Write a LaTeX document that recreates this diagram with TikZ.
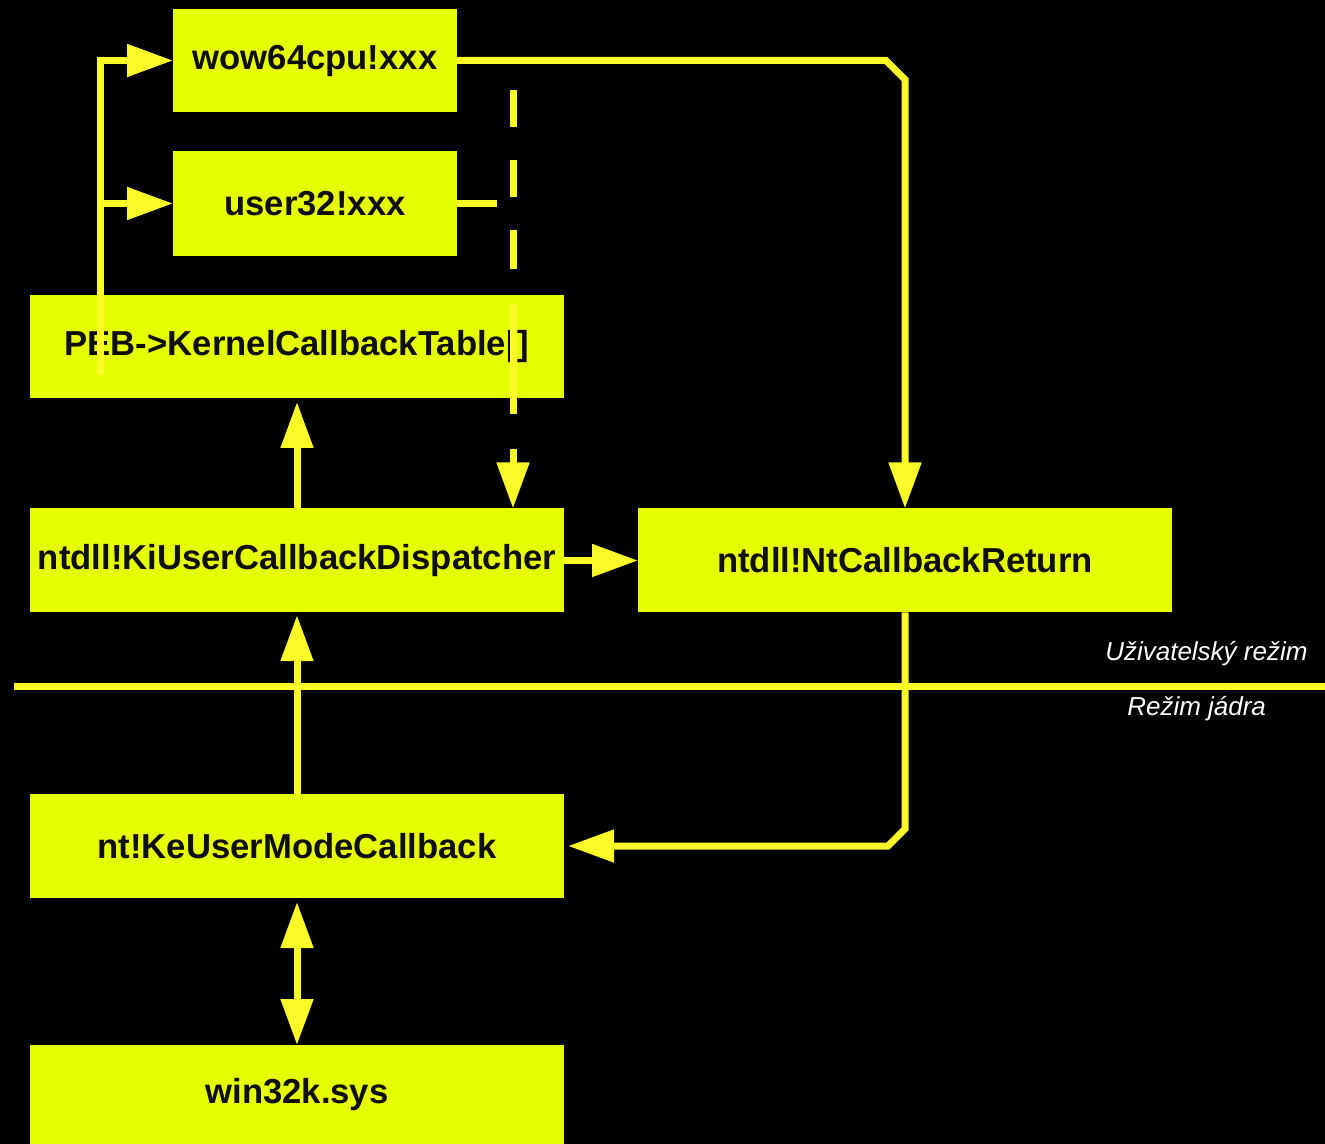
\documentclass[tikz,border=0pt]{standalone}
\usepackage{fontspec}
\setmainfont{Liberation Sans}
\usetikzlibrary{arrows.meta}
\definecolor{boxfill}{RGB}{230,255,0}
\definecolor{linecol}{RGB}{250,250,40}
\definecolor{txt}{RGB}{15,15,10}
\begin{document}
\begin{tikzpicture}[x=0.75pt,y=-0.75pt,
  box/.style={rectangle, fill=boxfill, inner sep=0pt, outer sep=0pt, text=txt,
    font=\bfseries\fontsize{26pt}{30pt}\selectfont},
  smallbox/.style={box, minimum width=213pt, minimum height=77.5pt},
  bigbox/.style={box, minimum width=400.5pt, minimum height=78pt},
  conn/.style={draw=linecol, line width=5.25pt},
  tri/.tip={Triangle[length=34.5pt,width=23.5pt]},
  tip/.style={-{tri}},
  lbl/.style={text=white, font=\itshape\fontsize{19.5pt}{23pt}\selectfont,
    inner sep=0pt, anchor=west}]
\fill[black] (0,0) rectangle (1325,1144);
\useasboundingbox (0,0) rectangle (1325,1144);

% boxes
\node[smallbox] (wow) at (315,60.5) {wow64cpu!xxx};
\node[smallbox, minimum height=78.75pt] (usr) at (315,203.5) {user32!xxx};
\node[bigbox, minimum height=77.25pt] (peb) at (297,346.5) {PEB->KernelCallbackTable[]};
\node[bigbox] (ki) at (297,560.5) {ntdll!KiUserCallbackDispatcher};
\node[bigbox] (ret) at (905,560.5) {ntdll!NtCallbackReturn};
\node[bigbox] (ke) at (297,846) {nt!KeUserModeCallback};
\node[bigbox, minimum height=75pt] (win) at (297,1095) {win32k.sys};

% mode labels
\node[lbl] (ulab) at (1105,654) {Uživatelský režim};
\node[lbl] (klab) at (1127,709) {Režim jádra};

% separator
\coordinate (sepL) at (14,686);
\coordinate (sepR) at (1325,686);
\draw[conn] (sepL) -- (sepR);

% connectors
\coordinate (lt) at (100,375);
\draw[conn,tip] (lt) |- (wow.west);
\draw[conn,tip] (lt |- usr.west) -- (usr.west);

\coordinate (dtop) at (513,90);
\draw[conn,tip,dash pattern=on 27.75pt off 24.75pt on 27.75pt off 24.75pt on 29.25pt off 26.25pt on 82.5pt off 26.25pt]
  (dtop) -- (dtop |- ki.north);

\coordinate (ustub) at (497,203.5);
\draw[conn] (usr.east) -- (ustub);

\draw[conn,tip] (wow.east) -- (886,60.5) -- (905,79.5) -- (ret.north);
\draw[conn,tip,shorten >=3pt] (ki.north) -- (peb.south);
\draw[conn,tip] (ki.east) -- (ret.west);
\draw[conn,tip,shorten >=2pt] (ke.north) -- (ki.south);
\draw[conn,tip,shorten >=3pt] (ret.south) -- (905,829) -- (888,846) -- (ke.east);
\draw[conn,{tri}-{tri},shorten <=3pt] (ke.south) -- (win.north);
\end{tikzpicture}
\end{document}
